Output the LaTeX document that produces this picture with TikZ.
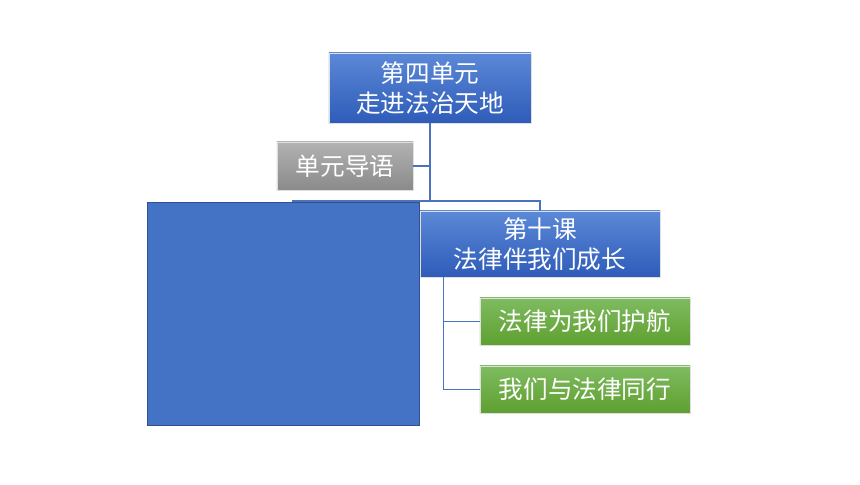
\documentclass[tikz,border=0pt]{standalone}
\usepackage{fontspec}
\newfontfamily\cjkfont{Noto Sans CJK SC}
\definecolor{topblue}{HTML}{5B88D6}
\definecolor{botblue}{HTML}{2E5CB9}
\definecolor{topgray}{HTML}{B2B2B2}
\definecolor{botgray}{HTML}{8A8A8A}
\definecolor{topgreen}{HTML}{7FBB60}
\definecolor{botgreen}{HTML}{5EA030}
\definecolor{linkblue}{HTML}{4A72C0}
\definecolor{sqblue}{HTML}{4472C4}
\definecolor{sqedge}{HTML}{2F528F}

\begin{document}
\begin{tikzpicture}[x=0.01cm,y=-0.01cm,
		box/.style={text=white,font=\cjkfont\fontsize{7}{8.6}\selectfont,align=center,inner sep=0pt,draw=white!75!gray,line width=0.2pt},
		bluebox/.style={box,top color=topblue,bottom color=botblue},
		graybox/.style={box,top color=topgray,bottom color=botgray},
		greenbox/.style={box,top color=topgreen,bottom color=botgreen},
		link/.style={draw=linkblue,line width=0.45pt}]
	\useasboundingbox (0,0) rectangle (860,484);
	% boxes
	\node[bluebox,minimum width=2.02cm,minimum height=0.70cm] (unit) at (430,88) {第四单元\\走进法治天地};
	\node[graybox,minimum width=1.36cm,minimum height=0.48cm] (guide) at (345,166) {单元导语};
	\node[bluebox,minimum width=2.40cm,minimum height=0.66cm] (lesson) at (540,244) {第十课\\法律伴我们成长};
	\node[greenbox,minimum width=2.10cm,minimum height=0.47cm] (law1) at (585,321.5) {法律为我们护航};
	\node[greenbox,minimum width=2.10cm,minimum height=0.47cm] (law2) at (585,389.5) {我们与法律同行};
	% connectors
	\coordinate (split) at (430,201);
	\coordinate (hidden) at (293,204);
	\coordinate (stem) at ([xshift=0.24cm]lesson.south west);
	\draw[link] (unit.south) -- (split);
	\draw[link] (guide.east) -- (guide.east -| unit.south);
	\draw[link] (split) -| (hidden);
	\draw[link] (split) -| (lesson.north);
	\foreach \n in {law1,law2}
		\draw[link] (stem) |- (\n.west);
	% cover
	\node[fill=sqblue,draw=sqedge,line width=0.3pt,minimum width=2.71cm,minimum height=2.22cm,inner sep=0pt] (cover) at (283.5,314) {};
\end{tikzpicture}
\end{document}
